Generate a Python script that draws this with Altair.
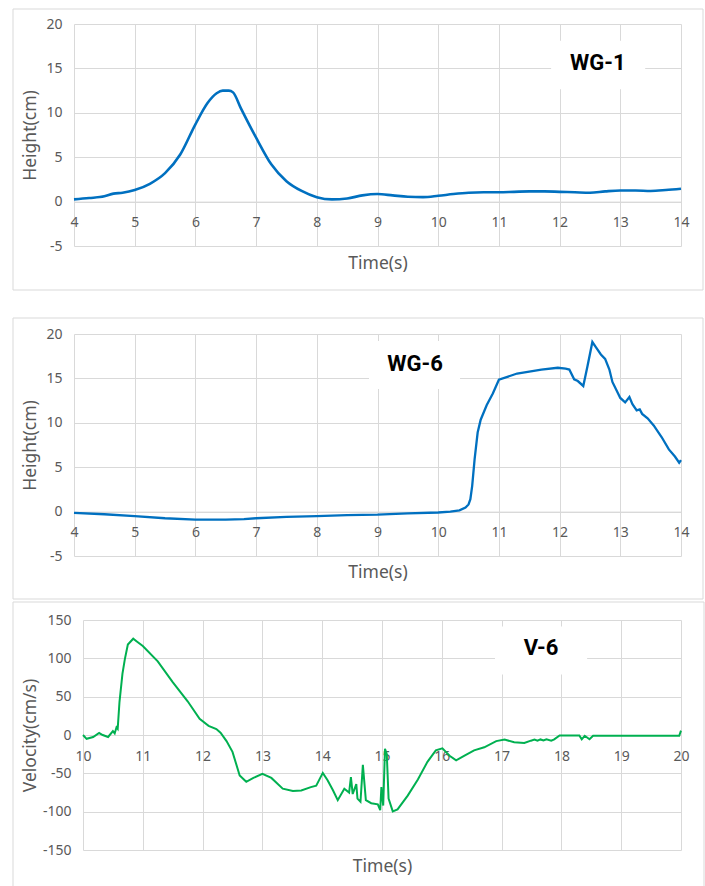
import altair as alt
import pandas as pd

# ---------------- data ----------------
wg1_t = [4.0, 4.25, 4.5, 4.65, 4.8, 5.0, 5.25, 5.5, 5.75, 6.0, 6.2, 6.35, 6.45, 6.55, 6.62, 6.75, 7.0, 7.25,
         7.5, 7.75, 8.0, 8.25, 8.5, 8.75, 9.0, 9.25, 9.5, 9.75, 10.0, 10.25, 10.5, 10.75, 11.0, 11.25,
         11.5, 11.75, 12.0, 12.25, 12.5, 12.75, 13.0, 13.25, 13.5, 13.75, 14.0]
wg1_h = [0.25, 0.4, 0.6, 0.9, 1.0, 1.3, 2.0, 3.2, 5.3, 8.7, 11.1, 12.2, 12.5, 12.5, 12.3, 10.5, 7.2, 4.2,
         2.3, 1.2, 0.5, 0.25, 0.35, 0.7, 0.85, 0.7, 0.55, 0.5, 0.65, 0.85, 1.0, 1.05, 1.05, 1.1,
         1.15, 1.15, 1.1, 1.05, 1.0, 1.15, 1.25, 1.25, 1.2, 1.3, 1.45]

wg6_t = [4.0, 4.5, 5.0, 5.5, 6.0, 6.5, 6.8, 7.0, 7.5, 8.0, 8.5, 9.0, 9.5, 10.0, 10.2, 10.35, 10.45, 10.5,
         10.53, 10.56, 10.6, 10.65, 10.7, 10.8, 10.9, 11.0, 11.3, 11.7, 11.97, 12.1, 12.16, 12.24, 12.3,
         12.39, 12.46, 12.54, 12.6, 12.68, 12.75, 12.82, 12.87, 13.0, 13.08, 13.15, 13.2, 13.27, 13.32,
         13.36, 13.45, 13.55, 13.68, 13.8, 13.9, 13.97, 14.0]
wg6_h = [-0.15, -0.3, -0.5, -0.75, -0.9, -0.9, -0.85, -0.75, -0.6, -0.5, -0.4, -0.35, -0.2, -0.1, 0.0, 0.15,
         0.45, 0.8, 1.4, 2.9, 5.9, 8.9, 10.35, 12.0, 13.3, 14.85, 15.55, 16.0, 16.2, 16.1, 16.0, 14.9, 14.7,
         14.15, 16.4, 19.1, 18.5, 17.7, 17.2, 16.0, 14.6, 12.8, 12.3, 12.9, 12.1, 11.4, 11.5,
         11.0, 10.5, 9.7, 8.4, 7.0, 6.2, 5.5, 5.8]

v6_t = [10.0, 10.06, 10.17, 10.27, 10.33, 10.42, 10.5, 10.53, 10.56, 10.58, 10.61, 10.66, 10.70, 10.75,
        10.84, 10.9, 11.0, 11.25, 11.5, 11.75, 11.95, 12.1, 12.23, 12.3, 12.4, 12.5, 12.62, 12.73, 12.85,
        13.0, 13.15, 13.34, 13.51, 13.65, 13.81, 13.9, 14.01, 14.09, 14.18, 14.26, 14.37, 14.45, 14.48,
        14.51, 14.57, 14.59, 14.64, 14.68, 14.73, 14.82, 14.93, 14.97, 14.99, 15.02, 15.05, 15.08, 15.11,
        15.18, 15.26, 15.43, 15.60, 15.76, 15.9, 16.01, 16.13, 16.24, 16.38, 16.54, 16.71, 16.91, 17.05,
        17.21, 17.38, 17.49, 17.55, 17.6, 17.65, 17.7, 17.75, 17.83, 17.88, 17.97, 18.3, 18.34, 18.39,
        18.47, 18.53, 19.97, 20.0]
v6_v = [0, -5, -2.6, 2.6, 0, -2.6, 5, 2, 10, 8, 43, 80, 99, 118,
        125.6, 122, 116, 96, 69, 44, 21, 12, 7.8, 3, -8, -22, -52.8, -61, -56,
        -50.6, -56, -70, -73, -72.3, -68, -66, -49.4, -59, -72, -85, -70, -75, -55,
        -77, -64, -83, -87, -39, -85, -89, -90.5, -98, -68, -92, -18, -25, -83,
        -99.6, -97, -79, -58, -35, -20, -17.4, -27, -33, -27, -20, -16, -8, -6,
        -9.5, -10.4, -7.4, -6, -7.5, -5.8, -7.2, -5.5, -7.4, -5.6, -0.5, -0.5, -5.6, -1,
        -5.6, -1, -1, 5.6]

h_ticks = [-5, 0, 5, 10, 15, 20]
t1_ticks = [4, 5, 6, 7, 8, 9, 10, 11, 12, 13, 14]
v_ticks = [-150, -100, -50, 0, 50, 100, 150]
t3_ticks = [10, 11, 12, 13, 14, 15, 16, 17, 18, 19, 20]

tags = ["WG-1", "WG-6", "V-6"]
tag_x = [12.63, 9.62, 17.66]
tag_y = [15.6, 16.6, 114]
box_x = [11.86, 8.86, 16.89]
box_x2 = [13.41, 10.36, 18.43]
box_y = [12.65, 13.8, 79]
box_y2 = [18.1, 19.2, 141.5]

# ---------------- style ----------------
FONT = "Noto Sans"
GREY = "#595959"
GRID = "#D9D9D9"
BLUE = "#0070C0"
GREEN = "#00B050"
LBL = "'' + datum.value"
W = 607  # common group width; panel 3 plots inside a shifted range


def panel(ts, vs, xdom, xrange, xticks, ydom, yticks, ytitle, color, sw, interp, H,
          xoff, yoff, xtitle_y, ytitle_x, idx, border):
    df = pd.DataFrame({"t": ts, "v": vs})
    xs = alt.Scale(domain=xdom, range=xrange, nice=False, zero=False)
    ys = alt.Scale(domain=ydom, nice=False, zero=False)
    x_axis = alt.Axis(values=xticks, title="Time(s)", offset=xoff, ticks=False, tickSize=0,
                      domain=True, domainColor=GRID, labelFlush=False, labelOverlap=False,
                      labelExpr=LBL, labelPadding=21, labelBaseline="middle", titleY=xtitle_y,
                      titleX=(xrange[0] + xrange[1]) / 2,
                      titleBaseline="middle", grid=True, gridColor=GRID)
    y_axis = alt.Axis(values=yticks, title=ytitle, domain=False, ticks=False, tickSize=0,
                      offset=yoff, labelOverlap=False, labelFlush=False, labelExpr=LBL,
                      labelPadding=12, titleX=ytitle_x, titleY=H / 2, titleAngle=270,
                      titleBaseline="middle", titleAlign="center", grid=True, gridColor=GRID)
    line = alt.Chart(df).mark_line(color=color, strokeWidth=sw, interpolate=interp).encode(
        x=alt.X("t:Q", scale=xs, axis=x_axis),
        y=alt.Y("v:Q", scale=ys, axis=y_axis),
    )
    ann = pd.DataFrame({"tag": [tags[idx]], "tx": [tag_x[idx]], "ty": [tag_y[idx]],
                        "bx": [box_x[idx]], "bx2": [box_x2[idx]],
                        "by": [box_y[idx]], "by2": [box_y2[idx]]})
    box = alt.Chart(ann).mark_rect(fill="white").encode(
        x=alt.X("bx:Q", scale=xs, axis=x_axis), x2="bx2:Q",
        y=alt.Y("by:Q", scale=ys, axis=y_axis), y2="by2:Q",
    )
    txt = alt.Chart(ann).mark_text(font="Roboto", fontWeight="bold", fontSize=22,
                                   color="black", align="center", baseline="middle").encode(
        x=alt.X("tx:Q", scale=xs, axis=x_axis), y=alt.Y("ty:Q", scale=ys, axis=y_axis),
        text="tag:N",
    )
    frame = alt.Chart(pd.DataFrame({"k": [0]})).mark_rect(
        fill="white", fillOpacity=0, stroke=GRID, strokeWidth=1, clip=False).encode(
        x=alt.value(border[0]), x2=alt.value(border[1]),
        y=alt.value(border[2]), y2=alt.value(border[3]),
    )
    return alt.layer(frame, box, line, txt).properties(width=W, height=H)


p1 = panel(wg1_t, wg1_h, [4, 14], [0, 607], t1_ticks, [-5, 20], h_ticks, "Height(cm)", BLUE, 2.6,
           "monotone", 222, -44.4, 0, 62, -44, 0, [-61, 629, -15, 266])
p2 = panel(wg6_t, wg6_h, [4, 14], [0, 607], t1_ticks, [-5, 20], h_ticks, "Height(cm)", BLUE, 2.3,
           "linear", 222, -44.4, 0, 61, -44, 1, [-61, 629, -16, 265])
p3 = panel(v6_t, v6_v, [10, 20], [9, 607], t3_ticks, [-150, 150], v_ticks, "Velocity(cm/s)", GREEN, 2,
           "linear", 230, -115, -9, 131, -53, 2, [-61, 630, -18, 270])

chart = alt.vconcat(p1, alt.vconcat(p2, p3, spacing=1), spacing=26).properties(
    padding={"left": 12, "top": 8, "right": 0, "bottom": 0},
    background="white",
).configure_view(strokeWidth=0).configure_axis(
    labelFont=FONT, labelFontSize=14, labelColor=GREY, labelOverlap=False,
    titleFont=FONT, titleFontSize=17.5, titleColor=GREY, titleFontWeight="normal",
)

chart.save("out.html", embed_options={"renderer": "svg", "actions": False})
